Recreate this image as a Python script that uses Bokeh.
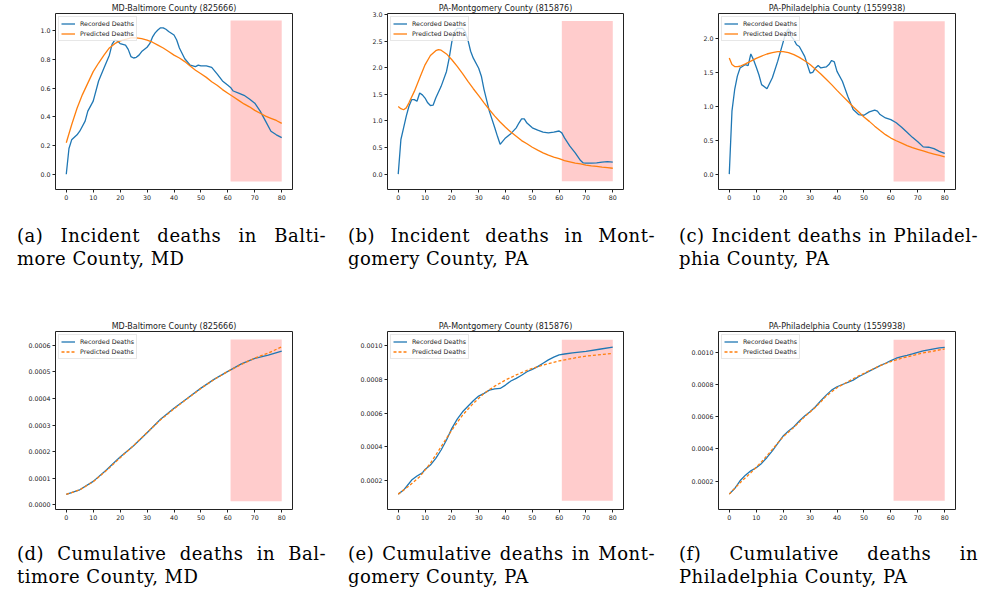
from bokeh.plotting import figure
from bokeh.models import Range1d, FixedTicker, PrintfTickFormatter, Label, Div
from bokeh.layouts import row, column
from bokeh.embed import file_html
from bokeh.resources import INLINE

# ---------------- data ----------------
x_ticks = [0, 10, 20, 30, 40, 50, 60, 70, 80]
shade_start = 61
shade_end = 80

# (a) MD-Baltimore incident (x1e-5)
md_inc_rec_days = [0, 1, 2, 4, 5, 7, 8, 10, 12, 14, 16, 17, 18, 19, 20, 22, 23, 24, 25, 26, 27, 28,
                   30, 31, 32, 33, 34, 35, 36, 37, 38, 40, 41, 42, 44, 46, 48, 49, 50, 52, 54, 56,
                   58, 60, 61, 62, 64, 66, 68, 70, 72, 74, 76, 78, 80]
md_inc_rec = [0.0, 0.18, 0.24, 0.275, 0.30, 0.37, 0.44, 0.51, 0.65, 0.74, 0.83, 0.905, 0.935, 0.93,
              0.91, 0.90, 0.87, 0.82, 0.81, 0.815, 0.83, 0.855, 0.885, 0.91, 0.955, 0.985, 1.005,
              1.02, 1.02, 1.01, 0.995, 0.97, 0.935, 0.88, 0.805, 0.76, 0.75, 0.76, 0.755, 0.755,
              0.745, 0.70, 0.65, 0.62, 0.605, 0.58, 0.565, 0.55, 0.525, 0.495, 0.44, 0.37, 0.30,
              0.275, 0.255]
md_inc_pred_days = list(range(0, 81, 2))
md_inc_pred = [0.22, 0.345, 0.46, 0.555, 0.635, 0.715, 0.775, 0.83, 0.88, 0.91, 0.93, 0.94, 0.95,
               0.95, 0.945, 0.935, 0.92, 0.90, 0.88, 0.855, 0.83, 0.81, 0.785, 0.755, 0.725, 0.70,
               0.675, 0.645, 0.62, 0.59, 0.565, 0.54, 0.515, 0.49, 0.47, 0.445, 0.425, 0.405,
               0.39, 0.375, 0.355]

# (b) PA-Montgomery incident (x1e-5)
mo_inc_rec_days = [0, 1, 2, 3, 4, 5, 6, 7, 8, 9, 10, 11, 12, 13, 14, 16, 18, 19, 20, 21, 22, 24, 25,
                   26, 27, 28, 30, 31, 32, 34, 36, 37, 38, 39, 40, 42, 44, 45, 46, 47, 48, 50, 52,
                   54, 56, 58, 60, 61, 62, 64, 66, 68, 69, 70, 72, 74, 76, 78, 80]
mo_inc_rec = [0.0, 0.65, 0.87, 1.09, 1.275, 1.40, 1.40, 1.37, 1.525, 1.49, 1.43, 1.34, 1.29, 1.295,
              1.43, 1.65, 1.93, 2.18, 2.49, 2.68, 2.74, 2.74, 2.68, 2.52, 2.31, 2.18, 1.99, 1.84,
              1.59, 1.18, 0.87, 0.71, 0.56, 0.62, 0.68, 0.76, 0.87, 0.96, 1.04, 1.04, 0.96, 0.87,
              0.825, 0.79, 0.775, 0.79, 0.81, 0.775, 0.68, 0.525, 0.40, 0.255, 0.21, 0.205, 0.205,
              0.21, 0.225, 0.235, 0.225]
mo_inc_pred_days = [0, 1, 2, 3, 4, 6, 8, 10, 12, 14, 15, 16] + list(range(18, 81, 2))
mo_inc_pred = [1.27, 1.23, 1.21, 1.245, 1.34, 1.555, 1.805, 2.055, 2.23, 2.32, 2.34, 2.33, 2.26,
               2.15, 2.025, 1.89, 1.745, 1.605, 1.475, 1.34, 1.21, 1.09, 0.98, 0.88, 0.79, 0.71,
               0.63, 0.57, 0.505, 0.45, 0.40, 0.355, 0.32, 0.29, 0.255, 0.23, 0.205, 0.19, 0.17,
               0.155, 0.145, 0.13, 0.12, 0.11]

# (c) PA-Philadelphia incident (x1e-5)
ph_inc_rec_days = [0, 1, 2, 3, 4, 5, 6, 7, 8, 9, 10, 11, 12, 14, 16, 18, 20, 21, 22, 23, 24, 25, 26,
                   28, 30, 31, 32, 33, 34, 36, 37, 38, 39, 40, 42, 44, 46, 48, 50, 52, 54, 55, 56,
                   58, 60, 62, 64, 66, 68, 70, 72, 74, 76, 78, 80]
ph_inc_rec = [0.0, 0.925, 1.24, 1.44, 1.56, 1.585, 1.61, 1.595, 1.765, 1.68, 1.575, 1.46, 1.315,
              1.255, 1.415, 1.66, 1.94, 2.075, 2.14, 2.025, 1.975, 1.90, 1.875, 1.73, 1.485, 1.495,
              1.56, 1.595, 1.56, 1.575, 1.61, 1.67, 1.65, 1.51, 1.365, 1.145, 0.95, 0.875, 0.865,
              0.915, 0.94, 0.925, 0.875, 0.825, 0.80, 0.755, 0.69, 0.615, 0.54, 0.475, 0.40, 0.395,
              0.375, 0.335, 0.305]
ph_inc_pred_days = [0, 1, 2, 3] + list(range(4, 81, 2))
ph_inc_pred = [1.705, 1.61, 1.58, 1.58, 1.585, 1.62, 1.66, 1.70, 1.735, 1.765, 1.785, 1.80, 1.80,
               1.785, 1.755, 1.715, 1.665, 1.61, 1.54, 1.47, 1.395, 1.315, 1.23, 1.15, 1.07, 0.99,
               0.915, 0.84, 0.775, 0.705, 0.64, 0.58, 0.53, 0.49, 0.455, 0.42, 0.39, 0.365, 0.34,
               0.315, 0.295, 0.275, 0.255]

# (d) MD-Baltimore cumulative
md_cum_rec_days = [0, 5, 10, 15, 18, 20, 25, 30, 35, 40, 45, 50, 55, 60, 65, 70, 75, 80]
md_cum_rec = [0.0000391, 0.0000567, 0.0000883, 0.000132, 0.000161, 0.000180, 0.000222, 0.000271,
              0.000322, 0.000363, 0.000401, 0.000439, 0.000473, 0.000502, 0.000530, 0.000551,
              0.000563, 0.000578]
md_cum_pred_days = [0, 5, 10, 15, 20, 25, 30, 35, 40, 45, 50, 55, 60, 65, 70, 75, 80]
md_cum_pred = [0.0000391, 0.0000565, 0.0000870, 0.000130, 0.000177, 0.000223, 0.000272, 0.000320,
               0.000361, 0.000400, 0.000438, 0.000472, 0.000502, 0.000528, 0.000552, 0.000571,
               0.000594]

# (e) PA-Montgomery cumulative
mo_cum_rec_days = [0, 2, 4, 5, 7, 9, 10, 12, 14, 16, 18, 20, 22, 24, 26, 28, 30, 32, 34, 36, 38, 40,
                   42, 44, 46, 48, 50, 52, 54, 56, 58, 60, 62, 65, 70, 75, 80]
mo_cum_rec = [0.000121, 0.000145, 0.000184, 0.000204, 0.000228, 0.000247, 0.000267, 0.000293,
              0.000333, 0.000382, 0.000441, 0.000510, 0.000565, 0.000608, 0.000641, 0.000673,
              0.000701, 0.000717, 0.000736, 0.000744, 0.000746, 0.000766, 0.000790, 0.000806,
              0.000824, 0.000845, 0.000859, 0.000875, 0.000895, 0.000915, 0.000931, 0.000945,
              0.000950, 0.000957, 0.000966, 0.000978, 0.000990]
mo_cum_pred_days = list(range(0, 81, 4))
mo_cum_pred = [0.000121, 0.000169, 0.000224, 0.000303, 0.000402, 0.000500, 0.000589, 0.000658,
               0.000717, 0.000760, 0.000796, 0.000826, 0.000853, 0.000875, 0.000893, 0.000909,
               0.000921, 0.000933, 0.000941, 0.000947, 0.000953]

# (f) PA-Philadelphia cumulative
ph_cum_rec_days = list(range(0, 81, 2))
ph_cum_rec = [0.000119, 0.000154, 0.000202, 0.000237, 0.000264, 0.000283, 0.000310, 0.000347,
              0.000388, 0.000434, 0.000480, 0.000511, 0.000538, 0.000573, 0.000604, 0.000631,
              0.000662, 0.000699, 0.000734, 0.000765, 0.000786, 0.000800, 0.000813, 0.000827,
              0.000848, 0.000865, 0.000883, 0.000900, 0.000917, 0.000932, 0.000948, 0.000963,
              0.000973, 0.000981, 0.000990, 0.001000, 0.001008, 0.001015, 0.001021, 0.001027,
              0.001031]
ph_cum_pred_days = list(range(0, 81, 4))
ph_cum_pred = [0.000119, 0.000190, 0.000252, 0.000320, 0.000397, 0.000476, 0.000534, 0.000600,
               0.000658, 0.000728, 0.000780, 0.000817, 0.000853, 0.000885, 0.000917, 0.000942,
               0.000963, 0.000980, 0.000996, 0.001008, 0.001021]

titles = ["MD-Baltimore County (825666)", "PA-Montgomery County (815876)",
          "PA-Philadelphia County (1559938)"]
captions_top = [("(a) Incident deaths in Balti-", "more County, MD"),
                ("(b) Incident deaths in Mont-", "gomery County, PA"),
                ("(c) Incident deaths in Philadel-", "phia County, PA")]
captions_bottom = [("(d) Cumulative deaths in Bal-", "timore County, MD"),
                   ("(e) Cumulative deaths in Mont-", "gomery County, PA"),
                   ("(f) Cumulative deaths in", "Philadelphia County, PA")]

inc_yticks = [[0.0, 0.2, 0.4, 0.6, 0.8, 1.0],
              [0.0, 0.5, 1.0, 1.5, 2.0, 2.5, 3.0],
              [0.0, 0.5, 1.0, 1.5, 2.0]]
cum_yticks = [[0.0, 0.0001, 0.0002, 0.0003, 0.0004, 0.0005, 0.0006],
              [0.0002, 0.0004, 0.0006, 0.0008, 0.0010],
              [0.0002, 0.0004, 0.0006, 0.0008, 0.0010]]
inc_yrange = [(-0.106, 1.12), (-0.29, 3.02), (-0.226, 2.36)]
cum_yrange = [(-0.0000175, 0.000652), (0.0000301, 0.001083), (0.0000238, 0.001129)]
inc_shade = [(-0.051, 1.071), (-0.137, 2.877), (-0.107, 2.247)]
cum_shade = [(0.0000139, 0.000622), (0.0000815, 0.001034), (0.0000777, 0.001077)]

BLUE = "#1f77b4"
ORANGE = "#ff7f0e"
SHADE = "#ffcccc"
INK = "#222222"
SANS = "DejaVu Sans"

# column geometry: (cell width, border left, frame width, border right, caption pad, caption text width)
cols = [(330, 55, 237, 38, 17, 309), (330, 57, 236, 37, 18, 307), (324, 58, 237, 29, 19, 299)]


def make_panel(ci, title, rx, ry, px, py, yr, yticks, shade, fmt, dashed, top_row):
    cw, bl, fw, br, _, _ = cols[ci]
    if top_row:
        bt, fh, bb = 12, 176, 27
    else:
        bt, fh, bb = 55, 178, 16
    p = figure(frame_width=fw, frame_height=fh, min_border_left=bl, min_border_right=br,
               min_border_top=bt, min_border_bottom=bb,
               x_range=Range1d(-4, 84), y_range=Range1d(*yr), title=title,
               output_backend="svg", toolbar_location=None)
    p.title.align = "center"
    p.title.text_font = SANS
    p.title.text_font_style = "normal"
    p.title.text_font_size = "8px"
    p.title.text_color = INK
    p.title.standoff = 2
    p.grid.visible = False
    p.outline_line_color = INK
    p.outline_line_width = 1
    p.background_fill_color = "white"
    p.border_fill_color = "white"
    p.xaxis.ticker = FixedTicker(ticks=x_ticks)
    p.yaxis.ticker = FixedTicker(ticks=yticks)
    p.yaxis.formatter = PrintfTickFormatter(format=fmt)
    for ax in (p.xaxis, p.yaxis):
        ax.axis_line_color = None
        ax.major_tick_line_color = INK
        ax.major_tick_out = 3
        ax.major_tick_in = 0
        ax.minor_tick_line_color = None
        ax.major_label_text_font = SANS
        ax.major_label_text_font_size = "6.3px"
        ax.major_label_text_color = INK
        ax.major_label_standoff = 2

    p.quad(left=[shade_start], right=[shade_end], bottom=[shade[0]], top=[shade[1]],
           fill_color=SHADE, line_color=None)
    p.line(rx, ry, line_color=BLUE, line_width=1.3, legend_label="Recorded Deaths")
    p.line(px, py, line_color=ORANGE, line_width=1.3,
           line_dash="3 2" if dashed else "solid", legend_label="Predicted Deaths")

    lg = p.legend[0]
    lg.location = "top_left"
    lg.margin = 3
    lg.padding = 2
    lg.spacing = 1
    lg.glyph_width = 14
    lg.glyph_height = 9
    lg.label_height = 9
    lg.label_standoff = 5
    lg.label_text_font = SANS
    lg.label_text_font_size = "6.3px"
    lg.label_text_color = INK
    lg.border_line_color = "#d0d0d0"
    lg.border_line_width = 1
    lg.background_fill_alpha = 0.8

    if top_row:
        p.add_layout(Label(x=-4, y=yr[1], text="1e\u22125", x_offset=2, y_offset=2,
                           text_baseline="bottom", text_font=SANS, text_font_size="6.3px",
                           text_color=INK))
    return p


def caption(ci, line1, line2, height, pad_top):
    cw, _, _, _, pad_left, tw = cols[ci]
    html = (
        f'<div style="font-family:\'DejaVu Serif\',serif;font-size:18px;line-height:22.5px;'
        f'letter-spacing:0.5px;color:#000;padding-top:{pad_top}px;padding-left:{pad_left}px;margin:0;">'
        f'<div style="width:{tw}px;text-align:justify;text-align-last:justify;">{line1}</div>'
        f'<div style="width:{tw}px;text-align:left;">{line2}</div></div>'
    )
    return Div(text=html, width=cw, height=height, margin=0)


inc_data = [(md_inc_rec_days, md_inc_rec, md_inc_pred_days, md_inc_pred),
            (mo_inc_rec_days, mo_inc_rec, mo_inc_pred_days, mo_inc_pred),
            (ph_inc_rec_days, ph_inc_rec, ph_inc_pred_days, ph_inc_pred)]
cum_data = [(md_cum_rec_days, md_cum_rec, md_cum_pred_days, md_cum_pred),
            (mo_cum_rec_days, mo_cum_rec, mo_cum_pred_days, mo_cum_pred),
            (ph_cum_rec_days, ph_cum_rec, ph_cum_pred_days, ph_cum_pred)]

top_cells = []
bottom_cells = []
for i in range(3):
    rx, ry, px, py = inc_data[i]
    pt = make_panel(i, titles[i], rx, ry, px, py, inc_yrange[i], inc_yticks[i], inc_shade[i],
                    "%.1f", False, True)
    top_cells.append(column(pt, caption(i, *captions_top[i], height=60, pad_top=9), spacing=0))
    rx, ry, px, py = cum_data[i]
    pb = make_panel(i, titles[i], rx, ry, px, py, cum_yrange[i], cum_yticks[i], cum_shade[i],
                    "%.4f", True, False)
    bottom_cells.append(column(pb, caption(i, *captions_bottom[i], height=63, pad_top=18),
                               spacing=0))

layout = column(row(*top_cells, spacing=0), row(*bottom_cells, spacing=0), spacing=0)

open("out.html", "w").write(file_html(layout, INLINE))
